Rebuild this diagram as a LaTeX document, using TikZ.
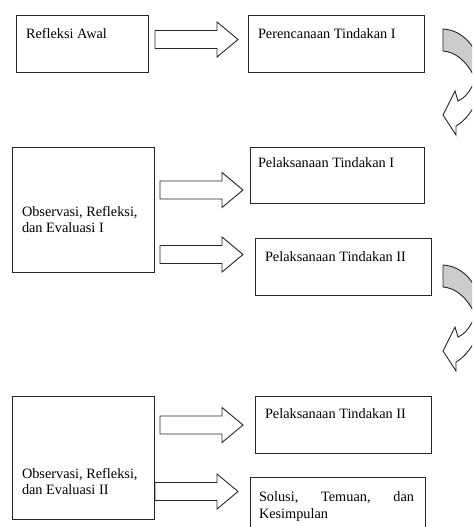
\documentclass[tikz,border=0pt]{standalone}
\usepackage{fontspec}
\setmainfont{Liberation Serif}
\tikzset{
  box/.style={draw=black!85, line width=0.9pt, rectangle, inner sep=0pt, outer sep=0pt, anchor=north west},
  txt/.style={inner sep=0pt, outer sep=0pt, font=\fontsize{14.3}{16}\selectfont, text=black},
  blk/.style={draw=black!85, line width=0.9pt, fill=white, line join=miter},
  backband/.style={draw=black!85, line width=0.9pt, fill=black!20},
  frontband/.style={draw=black!85, line width=0.9pt, fill=white}
}
\newcommand\barrow[3]{%
  \draw[blk] (#1,#3-9) -- (#2-21,#3-9) -- (#2-21,#3-17.5) -- (#2,#3) -- (#2-21,#3+17.5) -- (#2-21,#3+9) -- (#1,#3+9) -- cycle;}
\newcommand\curvearrow{%
  \draw[backband] (443,29) .. controls (460,30) and (473,42) .. (480,62) -- (480,82) -- (475,78) .. controls (466,60) and (455,52) .. (443,51) -- cycle;
  \draw[frontband] (478,74) .. controls (471,91) and (465,98) .. (458,101) -- (455,91) -- (443,115) -- (456,135) -- (456,126) .. controls (465,121) and (473,111) .. (480,94) -- cycle;}
\begin{document}
\begin{tikzpicture}[x=1pt,y=-1pt]
\clip (0,0) rectangle (472,527);
\fill[white] (0,0) rectangle (472,527);
% boxes
\node[box, minimum width=132, minimum height=57] (b1) at (16,15) {};
\node[box, minimum width=176, minimum height=57] (b2) at (248,15) {};
\node[box, minimum width=142, minimum height=125] (b3) at (12,147) {};
\node[box, minimum width=174, minimum height=56] (b4) at (250,147) {};
\node[box, minimum width=176, minimum height=57] (b5) at (255,238) {};
\node[box, minimum width=142, minimum height=123] (b6) at (12,396) {};
\node[box, minimum width=176, minimum height=57] (b7) at (255,396) {};
\node[box, minimum width=175, minimum height=70] (b8) at (250,477) {};
% texts
\node[txt, anchor=base west] (t1) at (26,38) {Refleksi Awal};
\node[txt, anchor=base west] (t2) at (258,38) {Perencanaan Tindakan I};
\node[txt, anchor=base west] (t3a) at (22,216) {Observasi, Refleksi,};
\node[txt, anchor=base west] (t3b) at (22,232) {dan Evaluasi I};
\node[txt, anchor=base west] (t4) at (258,167) {Pelaksanaan Tindakan I};
\node[txt, anchor=base west] (t5) at (265,261) {Pelaksanaan Tindakan II};
\node[txt, anchor=base west] (t6a) at (22,478) {Observasi, Refleksi,};
\node[txt, anchor=base west] (t6b) at (22,494) {dan Evaluasi II};
\node[txt, anchor=base west] (t7) at (265,418) {Pelaksanaan Tindakan II};
\node[txt, anchor=base west] (t8a) at (259,501) {\makebox[155pt][s]{Solusi,\hfill Temuan,\hfill dan}};
\node[txt, anchor=base west] (t8b) at (259,518) {Kesimpulan};
% block arrows
\barrow{155}{238}{39.5}
\barrow{160}{243}{190}
\barrow{160}{243}{254.5}
\barrow{160}{243}{425}
\barrow{155}{238}{491.5}
% curved arrows
\curvearrow
\begin{scope}[shift={(0,236)}]
\curvearrow
\end{scope}
\end{tikzpicture}
\end{document}
